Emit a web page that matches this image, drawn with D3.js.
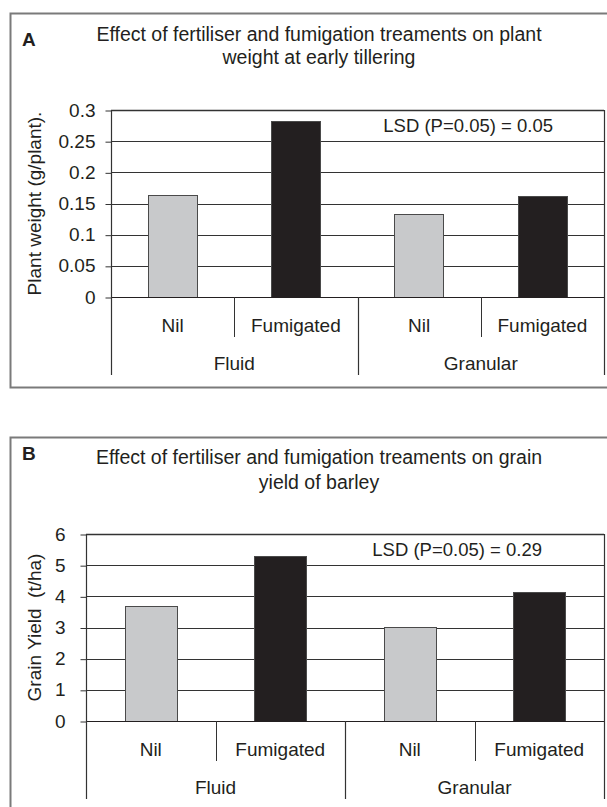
<!DOCTYPE html>
<html>
<head>
<meta charset="utf-8">
<script src="https://cdn.jsdelivr.net/npm/d3@7"></script>
<style>
  html, body { margin: 0; padding: 0; background: #fff; }
  svg { display: block; }
  text { font-family: "Liberation Sans", Arial, sans-serif; fill: #231f20; white-space: pre; }
</style>
</head>
<body>
<svg id="chart" width="607" height="807"></svg>
<script>
// Treatment groups and sub-categories
const fertilisers = ["Fluid", "Granular"];
const treatments = ["Nil", "Fumigated"];

// Panel A: plant weight at early tillering (g/plant)
const plantWeight = [0.164, 0.283, 0.133, 0.162];
const plantTicks = [0, 0.05, 0.1, 0.15, 0.2, 0.25, 0.3];

// Panel B: grain yield of barley (t/ha)
const grainYield = [3.70, 5.29, 3.03, 4.13];
const yieldTicks = [0, 1, 2, 3, 4, 5, 6];

const panels = [
  {
    letter: "A",
    title: ["Effect of fertiliser and fumigation treaments on plant", "weight at early tillering"],
    yLabel: "Plant weight (g/plant).",
    lsd: "LSD (P=0.05) = 0.05",
    values: plantWeight,
    ticks: plantTicks,
    top: 13,
    left: 111,
    labelGap: 10,
    lsdEnd: 553,
    letterY: 33,
    titleY: [28, 51]
  },
  {
    letter: "B",
    title: ["Effect of fertiliser and fumigation treaments on grain", "yield of barley"],
    yLabel: "Grain Yield  (t/ha)",
    lsd: "LSD (P=0.05) = 0.29",
    values: grainYield,
    ticks: yieldTicks,
    top: 437,
    left: 86,
    labelGap: 15,
    lsdEnd: 542,
    letterY: 23,
    titleY: [27, 52]
  }
];

const svg = d3.select("#chart");
const plotRight = 604;
const colours = { Nil: "#c8c9cb", Fumigated: "#231f20" };

// Every bar is a fertiliser x treatment pair, in drawing order
const cells = [];
fertilisers.forEach(f => treatments.forEach(t => cells.push({ f, t, key: f + "|" + t })));

panels.forEach(p => {
  const g = svg.append("g");
  const plotTop = p.top + 97;
  const plotBottom = p.top + 284;

  // Panel frame
  g.append("rect")
    .attr("x", 10.5).attr("y", p.top + 0.5)
    .attr("width", 640).attr("height", 374)
    .attr("fill", "none").attr("stroke", "#7a7a7a").attr("stroke-width", 2);

  // Panel letter and title
  g.append("text").attr("x", 22).attr("y", p.top + p.letterY)
    .attr("font-size", 19).attr("font-weight", "bold").text(p.letter);
  p.title.forEach((line, i) => {
    g.append("text").attr("x", 319).attr("y", p.top + p.titleY[i])
      .attr("text-anchor", "middle").attr("font-size", 19.5).text(line);
  });

  const y = d3.scaleLinear().domain([0, d3.max(p.ticks)]).range([plotBottom, plotTop]);
  const cellX = d3.scaleBand().domain(cells.map(c => c.key)).range([p.left, plotRight]);
  const barX = d3.scaleBand().domain(cells.map(c => c.key)).range([p.left, plotRight])
    .paddingInner(0.6).paddingOuter(0.3);
  const groupX = d3.scaleBand().domain(fertilisers).range([p.left, plotRight]);

  // Horizontal gridlines
  g.append("g").selectAll("line").data(p.ticks.slice(1)).join("line")
    .attr("x1", p.left).attr("x2", plotRight)
    .attr("y1", d => Math.round(y(d)) + 0.5).attr("y2", d => Math.round(y(d)) + 0.5)
    .attr("stroke", "#333").attr("stroke-width", d => d === d3.max(p.ticks) ? 1.6 : 1);

  // Y axis with outward ticks
  const yAxis = d3.axisLeft(y).tickValues(p.ticks).tickSize(6).tickPadding(p.labelGap)
    .tickFormat(d3.format("~g"));
  const ya = g.append("g").attr("transform", `translate(${p.left + 0.5},0)`).call(yAxis);
  ya.select(".domain").remove();
  ya.selectAll(".tick line").attr("stroke", "#333").attr("y1", 0.5).attr("y2", 0.5);
  ya.selectAll(".tick text").attr("font-size", 19)
    .attr("font-family", "Liberation Sans, Arial, sans-serif").attr("fill", "#231f20");

  // Y axis title
  g.append("text")
    .attr("transform", `translate(41,${(plotTop + plotBottom) / 2}) rotate(-90)`)
    .attr("text-anchor", "middle").attr("font-size", 19).text(p.yLabel);

  // Bars
  g.append("g").selectAll("rect").data(cells.map((c, i) => ({ ...c, v: p.values[i] }))).join("rect")
    .attr("x", d => Math.round(barX(d.key)) + 0.5)
    .attr("width", Math.round(barX.bandwidth()))
    .attr("y", d => Math.round(y(d.v)) + 0.5)
    .attr("height", d => Math.round(y(0)) - Math.round(y(d.v)))
    .attr("fill", d => colours[d.t])
    .attr("stroke", "#4a4a4a").attr("stroke-width", 1);

  // Baseline
  g.append("line").attr("x1", p.left).attr("x2", plotRight)
    .attr("y1", Math.round(y(0)) + 0.5).attr("y2", Math.round(y(0)) + 0.5)
    .attr("stroke", "#231f20").attr("stroke-width", 1.2);

  // Category dividers: inner (treatment) and outer (fertiliser)
  const innerDepth = plotBottom + 40;
  const outerDepth = plotBottom + 78;
  cells.forEach(c => {
    if (c.t !== treatments[0]) {
      const xx = Math.round(cellX(c.key)) + 0.5;
      g.append("line").attr("x1", xx).attr("x2", xx)
        .attr("y1", plotBottom).attr("y2", innerDepth)
        .attr("stroke", "#333");
    }
  });
  const edges = fertilisers.map(f => groupX(f)).concat([plotRight]);
  edges.forEach((e, i) => {
    const xx = Math.round(e) + 0.5;
    g.append("line").attr("x1", xx).attr("x2", xx)
      .attr("y1", i === 0 || i === edges.length - 1 ? plotTop : plotBottom)
      .attr("y2", outerDepth)
      .attr("stroke", "#333").attr("stroke-width", 1.2);
  });

  // Category labels
  g.append("g").selectAll("text").data(cells).join("text")
    .attr("x", d => cellX(d.key) + cellX.bandwidth() / 2)
    .attr("y", plotBottom + 35)
    .attr("text-anchor", "middle").attr("font-size", 19).text(d => d.t);
  g.append("g").selectAll("text").data(fertilisers).join("text")
    .attr("x", d => groupX(d) + groupX.bandwidth() / 2)
    .attr("y", plotBottom + 73)
    .attr("text-anchor", "middle").attr("font-size", 19).text(d => d);

  // LSD annotation
  g.append("text").attr("x", p.lsdEnd).attr("y", plotTop + 22)
    .attr("text-anchor", "end").attr("font-size", 18.5).text(p.lsd);
});
</script>
</body>
</html>
